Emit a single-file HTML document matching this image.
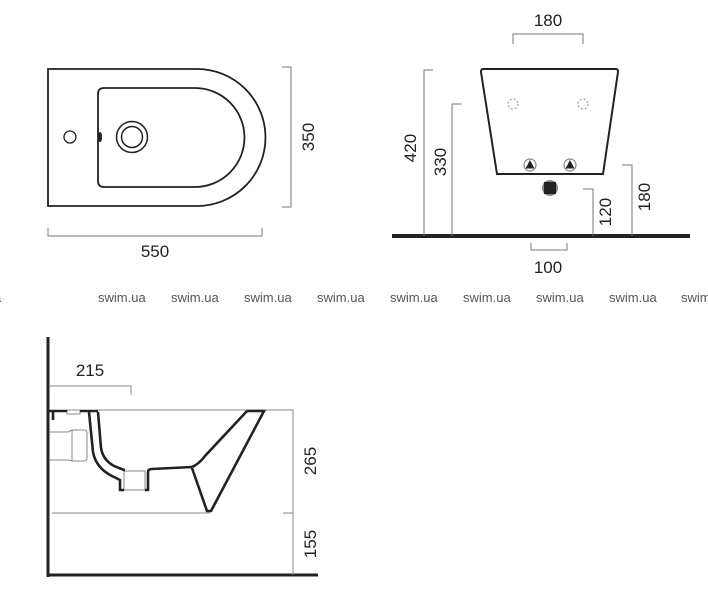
<!DOCTYPE html>
<html><head><style>
html,body{margin:0;padding:0;background:#fff;}
svg{display:block;}
text{font-family:"Liberation Sans",sans-serif;fill:#222;}
</style></head><body>
<svg width="708" height="600" viewBox="0 0 708 600" xmlns="http://www.w3.org/2000/svg">
<!-- Top view -->
<g fill="none" stroke="#222">
<path d="M48 69 H197 A68.5 68.5 0 0 1 197 206 H48 Z" stroke-width="1.8"/>
<path d="M104 88 H195 A49.5 49.5 0 0 1 195 187 H104 Q98 187 98 181 V94 Q98 88 104 88 Z" stroke-width="1.8"/>
<circle cx="70" cy="137" r="6" stroke-width="1.3"/>
<circle cx="132" cy="137" r="15.5" stroke-width="1.5"/>
<circle cx="132" cy="137" r="10.5" stroke-width="1.5"/>
<ellipse cx="100" cy="137" rx="1.5" ry="4.5" fill="#222" stroke-width="1"/>
<g stroke="#777" stroke-width="1">
<path d="M282 67 H291 V207 H282"/>
<path d="M48 228 V236 H262 V228"/>
</g>
</g>
<text x="155" y="257" font-size="17" text-anchor="middle">550</text>
<text transform="translate(314,137) rotate(-90)" font-size="17" text-anchor="middle">350</text>

<!-- Front view -->
<g fill="none" stroke="#222">
<path d="M483 69 H616 Q618 69 618 72 L603 174 H497 L481 72 Q481 69 483 69 Z" stroke-width="2"/>
<circle cx="513" cy="104" r="5" stroke="#888" stroke-width="1" stroke-dasharray="2 2"/>
<circle cx="583" cy="104" r="5" stroke="#888" stroke-width="1" stroke-dasharray="2 2"/>
<circle cx="530" cy="165" r="6" stroke="#888" stroke-width="1.2"/>
<circle cx="570" cy="165" r="6" stroke="#888" stroke-width="1.2"/>
<circle cx="550" cy="188" r="8" fill="#888" stroke="none"/>
<line x1="392" y1="236" x2="690" y2="236" stroke-width="4"/>
<g stroke="#777" stroke-width="1">
<path d="M433 70 H424 V236"/>
<path d="M462 104 H452 V236"/>
<path d="M583 189 H593 V236"/>
<path d="M622 165 H632 V236"/>
<path d="M513 44 V34 H583 V44"/>
<path d="M531 243 V250 H567 V243"/>
</g>
</g>
<polygon points="530,160 534.5,168.5 525.5,168.5" fill="#222"/>
<polygon points="570,160 574.5,168.5 565.5,168.5" fill="#222"/>
<rect x="544" y="182" width="12" height="12" fill="#222"/>
<text x="548" y="26" font-size="17" text-anchor="middle">180</text>
<text x="548" y="273" font-size="17" text-anchor="middle">100</text>
<text transform="translate(416,148) rotate(-90)" font-size="17" text-anchor="middle">420</text>
<text transform="translate(446,162) rotate(-90)" font-size="17" text-anchor="middle">330</text>
<text transform="translate(611,212) rotate(-90)" font-size="17" text-anchor="middle">120</text>
<text transform="translate(650,197) rotate(-90)" font-size="17" text-anchor="middle">180</text>

<!-- watermark -->
<g font-size="13" fill="#555">
<text x="-12" y="302" style="fill:#555">a</text>
<text x="98" y="302" style="fill:#555">swim.ua</text>
<text x="171" y="302" style="fill:#555">swim.ua</text>
<text x="244" y="302" style="fill:#555">swim.ua</text>
<text x="317" y="302" style="fill:#555">swim.ua</text>
<text x="390" y="302" style="fill:#555">swim.ua</text>
<text x="463" y="302" style="fill:#555">swim.ua</text>
<text x="536" y="302" style="fill:#555">swim.ua</text>
<text x="609" y="302" style="fill:#555">swim.ua</text>
<text x="681" y="302" style="fill:#555">swim</text>
</g>
<text x="-6" y="302" font-size="13" style="fill:#555">a</text>

<!-- Side view -->
<g fill="none" stroke="#222">
<line x1="48" y1="337" x2="48" y2="577" stroke-width="3"/>
<line x1="47" y1="575" x2="318" y2="575" stroke-width="3"/>
<g stroke="#888" stroke-width="1">
<path d="M50 386 H131 V395"/>
<path d="M98 410 H293"/>
<path d="M52 513 H210"/>
<path d="M283 410 H293 V575"/>
<path d="M283 513 H293"/>
<path d="M50 432 H68 L72 430 H84 Q87 430 87 433 V458 Q87 461 84 461 H72 L68 460 H50"/>
<line x1="72" y1="430" x2="72" y2="461"/>
<rect x="124" y="471" width="21" height="19"/>
<rect x="67" y="410" width="13" height="4"/>
</g>
<g stroke-width="2.6">
<path d="M49 411 H67 M80 411 H98"/>
<path d="M53 411 V420"/>
<path d="M89 412 L93 452 Q96 468 112 476 L120 480 V490 H124"/>
<path d="M98 412 L101 448 Q103 460 114 466 L124 470 H125"/>
<path d="M145 490 H148 V472 Q148 469 152 469 L192 467"/>
<path d="M247 411 H264 L211 511 H207 L192 468"/>
<path d="M247 411 L205 456 Q199 464 192 467"/>
</g>
</g>
<text x="90" y="376" font-size="17" text-anchor="middle">215</text>
<text transform="translate(316,461) rotate(-90)" font-size="17" text-anchor="middle">265</text>
<text transform="translate(316,544) rotate(-90)" font-size="17" text-anchor="middle">155</text>
</svg>
</body></html>
